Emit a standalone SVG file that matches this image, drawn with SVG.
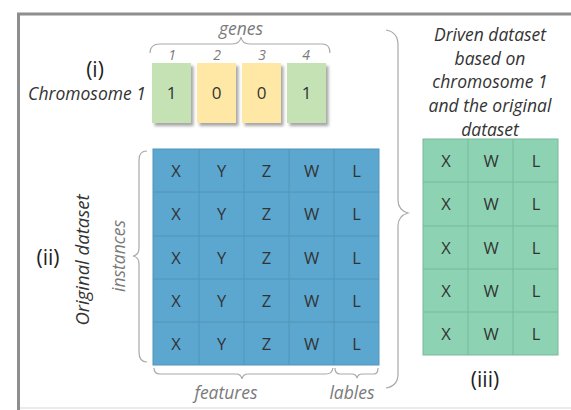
<svg xmlns="http://www.w3.org/2000/svg" width="571" height="410" viewBox="0 0 571 410">
  <defs>
    <filter id="shadow" x="-20%" y="-20%" width="150%" height="150%">
      <feDropShadow dx="2.5" dy="3" stdDeviation="1.8" flood-color="#000" flood-opacity="0.35"/>
    </filter>
  </defs>
  <style>
    text { font-family: "Open Sans", "Liberation Sans", sans-serif; }
    .frame { fill: none; stroke: #8e8e8e; stroke-width: 3; }
    .brace { fill: none; stroke: #a9a9a9; stroke-width: 1.2; }
    .note { font-style: italic; fill: #7a7a7a; font-size: 17.5px; text-anchor: middle; }
    .title { font-style: italic; fill: #333; font-size: 17.5px; text-anchor: middle; }
    .roman { fill: #222; font-size: 21px; text-anchor: middle; }
    .cell { fill: #333; font-size: 16.5px; text-anchor: middle; }
    .gene { stroke: none; filter: url(#shadow); }
    .blue { fill: #5ba7d0; stroke: #5394b8; stroke-width: 1; }
    .green { fill: #8dd3b3; stroke: #79b89b; stroke-width: 1; }
  </style>

  <rect width="571" height="410" fill="#fff"/>

  <!-- outer frame -->
  <path class="frame" d="M18.5 410 V14 H571"/>
  <line x1="20" y1="408" x2="571" y2="408" stroke="#d6d6d6" stroke-width="1.2"/>

  <!-- (i) chromosome -->
  <g id="chromosome">
    <text class="roman" x="95" y="77">(i)</text>
    <text class="title" x="87" y="100">Chromosome 1</text>
    <text class="note" x="241" y="35">genes</text>
    <g class="note" style="font-size:14px">
      <text x="172" y="60">1</text>
      <text x="217" y="60">2</text>
      <text x="262" y="60">3</text>
      <text x="306" y="60">4</text>
    </g>
    <rect class="gene" x="152" y="63" width="39" height="60" fill="#c5e2b5"/>
    <rect class="gene" x="197" y="63" width="39" height="60" fill="#ffe8a5"/>
    <rect class="gene" x="242" y="63" width="39" height="60" fill="#ffe8a5"/>
    <rect class="gene" x="287" y="63" width="39" height="60" fill="#c5e2b5"/>
    <g class="cell" style="font-size:17px">
      <text x="171.5" y="99">1</text>
      <text x="216.5" y="99">0</text>
      <text x="261.5" y="99">0</text>
      <text x="306.5" y="99">1</text>
    </g>
  </g>

  <!-- (ii) original dataset -->
  <g id="original-dataset">
    <text class="roman" x="48" y="265">(ii)</text>
    <text class="title" style="font-size:18.5px" transform="translate(89 260) rotate(-90)">Original dataset</text>
    <text class="note" transform="translate(125 256) rotate(-90)">instances</text>
    <rect class="blue" x="153" y="149" width="226" height="216"/>
    <g stroke="#5394b8" stroke-width="1">
      <line x1="199" y1="149" x2="199" y2="365"/>
      <line x1="244" y1="149" x2="244" y2="365"/>
      <line x1="289" y1="149" x2="289" y2="365"/>
      <line x1="334" y1="149" x2="334" y2="365"/>
      <line x1="153" y1="192" x2="379" y2="192"/>
      <line x1="153" y1="236" x2="379" y2="236"/>
      <line x1="153" y1="279" x2="379" y2="279"/>
      <line x1="153" y1="322" x2="379" y2="322"/>
    </g>
    <g class="cell">
      <text x="176" y="177">X</text><text x="221.5" y="177">Y</text><text x="266.5" y="177">Z</text><text x="311.5" y="177">W</text><text x="356.5" y="177">L</text>
      <text x="176" y="220">X</text><text x="221.5" y="220">Y</text><text x="266.5" y="220">Z</text><text x="311.5" y="220">W</text><text x="356.5" y="220">L</text>
      <text x="176" y="264">X</text><text x="221.5" y="264">Y</text><text x="266.5" y="264">Z</text><text x="311.5" y="264">W</text><text x="356.5" y="264">L</text>
      <text x="176" y="307">X</text><text x="221.5" y="307">Y</text><text x="266.5" y="307">Z</text><text x="311.5" y="307">W</text><text x="356.5" y="307">L</text>
      <text x="176" y="350">X</text><text x="221.5" y="350">Y</text><text x="266.5" y="350">Z</text><text x="311.5" y="350">W</text><text x="356.5" y="350">L</text>
    </g>
    <text class="note" x="226" y="399">features</text>
    <text class="note" x="352" y="399">lables</text>
  </g>

  <!-- (iii) derived dataset -->
  <g id="derived-dataset">
    <g class="title">
      <text x="490" y="41">Driven dataset</text>
      <text x="490" y="65">based on</text>
      <text x="490" y="88">chromosome 1</text>
      <text x="490" y="112">and the original</text>
      <text x="490" y="136">dataset</text>
    </g>
    <rect class="green" x="423" y="139" width="135" height="216"/>
    <g stroke="#79b89b" stroke-width="1">
      <line x1="468" y1="139" x2="468" y2="355"/>
      <line x1="513" y1="139" x2="513" y2="355"/>
      <line x1="423" y1="182" x2="558" y2="182"/>
      <line x1="423" y1="226" x2="558" y2="226"/>
      <line x1="423" y1="269" x2="558" y2="269"/>
      <line x1="423" y1="312" x2="558" y2="312"/>
    </g>
    <g class="cell">
      <text x="446" y="167">X</text><text x="491" y="167">W</text><text x="536" y="167">L</text>
      <text x="446" y="210">X</text><text x="491" y="210">W</text><text x="536" y="210">L</text>
      <text x="446" y="254">X</text><text x="491" y="254">W</text><text x="536" y="254">L</text>
      <text x="446" y="297">X</text><text x="491" y="297">W</text><text x="536" y="297">L</text>
      <text x="446" y="340">X</text><text x="491" y="340">W</text><text x="536" y="340">L</text>
    </g>
    <text class="roman" x="485" y="387">(iii)</text>
  </g>

  <!-- braces -->
  <g id="connectors">
    <!-- genes -->
    <path class="brace" d="M150 53 Q150 44 160 44 H232 Q240 44 241 37 Q242 44 250 44 H322 Q330 44 330 53"/>
    <!-- instances -->
    <path class="brace" d="M147 151 Q139 151 139 160 V248 Q139 255 133 256 Q139 257 139 264 V352 Q139 362 147 362"/>
    <!-- features -->
    <path class="brace" d="M154 368 Q154 374 160 374 H236 Q241 374 242 379 Q243 374 248 374 H326 Q332 374 333 368"/>
    <!-- lables -->
    <path class="brace" d="M335 368 Q335 374 340 374 H352 Q356 374 357 378 Q358 374 362 374 H374 Q378 374 378 368"/>
    <!-- to derived dataset -->
    <path class="brace" d="M386 30 Q398 32 398 45 V200 Q398 210 408 213 Q398 216 398 226 V374 Q398 386 386 388"/>
  </g>
</svg>
